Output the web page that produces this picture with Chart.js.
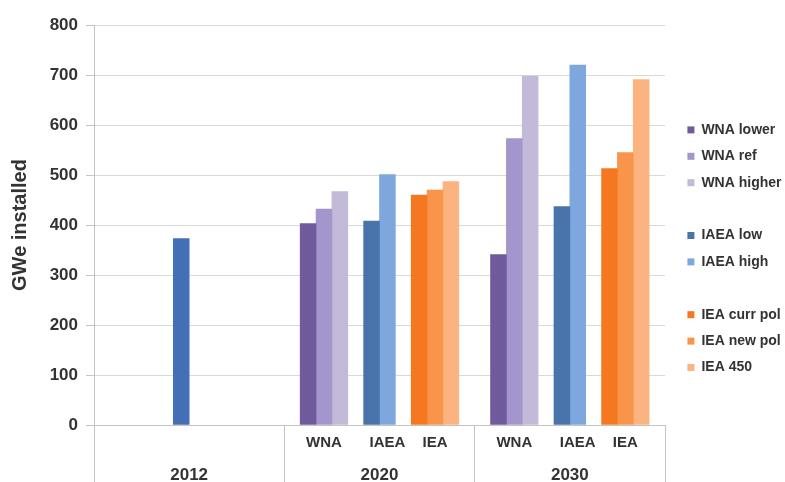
<!DOCTYPE html>
<html>
<head>
<meta charset="utf-8">
<script src="https://cdn.jsdelivr.net/npm/chart.js@4/dist/chart.umd.min.js"></script>
<style>
html,body{margin:0;padding:0;background:#ffffff;}
#wrap{width:785px;height:482px;}
</style>
</head>
<body>
<div id="wrap"><canvas id="c" width="785" height="482"></canvas></div>
<script>
// ---------------- data ----------------
const years = ['2012', '2020', '2030'];
const sources = ['WNA', 'IAEA', 'IEA'];
const yTicks = [0, 100, 200, 300, 400, 500, 600, 700, 800];

const actual2012 = [373, null, null];
const wnaLower   = [null, 403, 341];
const wnaRef     = [null, 432, 573];
const wnaHigher  = [null, 467, 698];
const iaeaLow    = [null, 408, 437];
const iaeaHigh   = [null, 501, 720];
const ieaCurrPol = [null, 460, 513];
const ieaNewPol  = [null, 470, 545];
const iea450     = [null, 487, 691];

// ---------------- layout / style ----------------
const FONT = "'Liberation Sans', Arial, Helvetica, sans-serif";
const TEXT = '#333333';
const AXIS = '#c4c4c4';
const GRID = '#d9d9d9';
const SLOTS = 12;                       // bar slots per year group
const PLOT_TOP = 25;                    // top of plotting area (px)
const barSlot = { WNA: [1, 2, 3], IAEA: [5, 6], IEA: [8, 9, 10], actual: [5] };
const labelSlot = { WNA: 2, IAEA: 6, IEA: 9 };

const series = [
  { label: '2012',        source: 'actual', rank: 0, values: actual2012, color: '#436FB6', legend: false },
  { label: 'WNA lower',   source: 'WNA',  rank: 0, values: wnaLower,   color: '#6F5B9C' },
  { label: 'WNA ref',     source: 'WNA',  rank: 1, values: wnaRef,     color: '#A495CC' },
  { label: 'WNA higher',  source: 'WNA',  rank: 2, values: wnaHigher,  color: '#C3BADA' },
  { label: 'IAEA low',    source: 'IAEA', rank: 0, values: iaeaLow,    color: '#4874AB' },
  { label: 'IAEA high',   source: 'IAEA', rank: 1, values: iaeaHigh,   color: '#7EA8DD' },
  { label: 'IEA curr pol',source: 'IEA',  rank: 0, values: ieaCurrPol, color: '#F5771F' },
  { label: 'IEA new pol', source: 'IEA',  rank: 1, values: ieaNewPol,  color: '#F9954A' },
  { label: 'IEA 450',     source: 'IEA',  rank: 2, values: iea450,     color: '#FBB47F' }
];

const nSlots = years.length * SLOTS;
const slotLabels = new Array(nSlots).fill('');
years.forEach((y, g) => {
  sources.forEach(src => {
    const has = series.some(s => s.source === src && s.values[g] !== null);
    if (has) slotLabels[g * SLOTS + labelSlot[src]] = src;
  });
});

const datasets = series.map(s => {
  const data = new Array(nSlots).fill(null);
  s.values.forEach((v, g) => {
    if (v !== null) data[g * SLOTS + barSlot[s.source][s.rank]] = v;
  });
  return {
    label: s.label,
    data: data,
    backgroundColor: s.color,
    borderWidth: 0,
    grouped: false,
    categoryPercentage: 1.0,
    barPercentage: 1.0,
    _legend: s.legend !== false,
    _source: s.source
  };
});

Chart.defaults.font.family = FONT;
Chart.defaults.color = TEXT;

new Chart(document.getElementById('c'), {
  type: 'bar',
  data: { labels: slotLabels, datasets: datasets },
  options: {
    responsive: false,
    animation: false,
    events: [],
    layout: { padding: { top: 7, right: 0, bottom: 0, left: 0 } },
    plugins: {
      tooltip: { enabled: false },
      legend: {
        position: 'right',
        maxWidth: 110,
        title: { display: true, text: '', padding: 0, font: { size: 7 } },
        labels: {
          boxWidth: 7,
          boxHeight: 7,
          padding: 12.4,
          color: TEXT,
          font: { size: 14, weight: 'bold', family: FONT },
          generateLabels(chart) {
            const items = [];
            let prev = null;
            chart.data.datasets.forEach((ds, i) => {
              if (!ds._legend) return;
              if (prev !== null && ds._source !== prev) {
                items.push({ text: '', fillStyle: 'rgba(0,0,0,0)', strokeStyle: 'rgba(0,0,0,0)', lineWidth: 0, hidden: false, datasetIndex: -1 });
              }
              prev = ds._source;
              items.push({ text: ds.label, fillStyle: ds.backgroundColor, strokeStyle: ds.backgroundColor, lineWidth: 0, hidden: false, datasetIndex: i, fontColor: TEXT });
            });
            return items;
          }
        }
      }
    },
    scales: {
      x: {
        type: 'category',
        position: 'bottom',
        weight: 0,
        offset: true,
        grid: {
          display: true,
          drawOnChartArea: false,
          drawTicks: true,
          tickLength: 57,
          offset: true,
          color: ctx => (ctx.index === undefined || ctx.index % SLOTS === 0) ? AXIS : 'rgba(0,0,0,0)'
        },
        border: { display: true, color: AXIS },
        ticks: {
          autoSkip: false,
          maxRotation: 0,
          minRotation: 0,
          padding: -48,
          color: TEXT,
          font: { size: 15, weight: 'bold', family: FONT }
        },
        afterFit(s) { s.height = 30; }
      },
      x2: {
        type: 'category',
        labels: years,
        position: 'bottom',
        weight: 1,
        offset: true,
        grid: { display: false, drawTicks: false },
        border: { display: false },
        ticks: {
          autoSkip: false,
          maxRotation: 0,
          minRotation: 0,
          padding: 10,
          color: TEXT,
          font: { size: 17, weight: 'bold', family: FONT }
        },
        afterFit(s) { s.height = 27; }
      },
      y: {
        type: 'linear',
        position: 'left',
        min: yTicks[0],
        max: yTicks[yTicks.length - 1],
        afterBuildTicks(s) { s.ticks = yTicks.map(v => ({ value: v })); },
        grid: { color: GRID, tickColor: AXIS, tickLength: 8, drawTicks: true },
        border: { display: true, color: AXIS },
        ticks: { padding: 8, color: TEXT, font: { size: 17, weight: 'bold', family: FONT } },
        title: {
          display: true,
          text: 'GWe installed',
          color: TEXT,
          padding: { top: 8, bottom: 0 },
          font: { size: 20, weight: 'bold', family: FONT }
        },
        afterFit(s) { s.width = 94; s.paddingTop = PLOT_TOP; }
      },
      gap: {
        type: 'linear',
        position: 'right',
        display: true,
        grid: { display: false, drawTicks: false },
        border: { display: false },
        ticks: { display: false },
        afterFit(s) { s.width = 10; }
      }
    }
  }
});
</script>
</body>
</html>
